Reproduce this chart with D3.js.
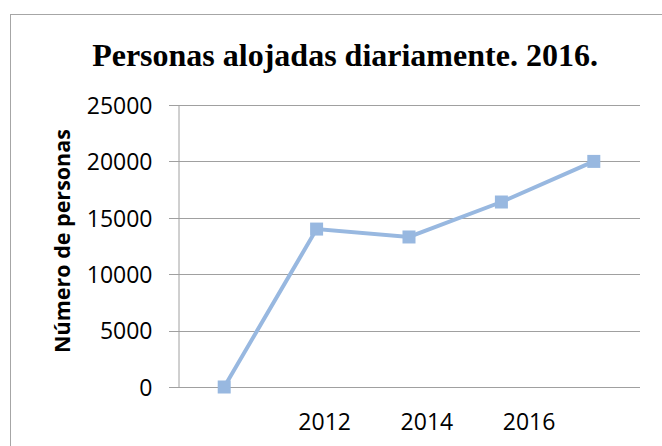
<!DOCTYPE html>
<html>
<head>
<meta charset="utf-8">
<script src="https://cdn.jsdelivr.net/npm/d3@7"></script>
<style>
  body { margin: 0; background: white; }
  .tickText { font-family: "Open Sans", sans-serif; font-size: 23px; fill: black; }
</style>
</head>
<body>
<div id="chart"></div>
<script>
const categories = ["c1", "c2", "c3", "c4", "c5"];
const personas = [0, 14000, 13300, 16400, 20000];
const yTicks = [0, 5000, 10000, 15000, 20000, 25000];
const yearLabels = [2012, 2014, 2016];

const wSvg = 662;
const hSvg = 446;
const plotLeft = 178;
const plotRight = 640;
const plotTop = 105;
const plotBottom = 387;

let svg = d3.select("#chart")
    .append("svg")
    .attr("width", wSvg)
    .attr("height", hSvg);

// outer frame of the chart object
svg.append("rect")
    .attr("x", 10.5)
    .attr("y", 14.5)
    .attr("width", 700)
    .attr("height", 500)
    .attr("fill", "white")
    .attr("stroke", "#a6a6a6");

let yScale = d3.scaleLinear([0, 25000], [plotBottom, plotTop]);
let xScale = d3.scaleBand(categories, [plotLeft, plotRight]);
// the year labels sit on their own scale, they do not line up with the points
let yearScale = d3.scaleLinear([2009.14, 2018.18], [plotLeft, plotRight]);

// gridlines
svg.append("g")
    .selectAll("line")
    .data(yTicks)
    .enter()
    .append("line")
    .attr("x1", plotLeft - 9)
    .attr("x2", plotRight)
    .attr("y1", d => Math.round(yScale(d)) + 0.5)
    .attr("y2", d => Math.round(yScale(d)) + 0.5)
    .attr("stroke", "#a0a0a0");

let yAxis = d3.axisLeft(yScale).tickValues(yTicks).tickFormat(d3.format("d")).tickSize(0).tickPadding(26);
svg.append("g")
    .attr("transform", `translate(${plotLeft + 0.5}, 0)`)
    .call(yAxis)
    .call(g => g.select(".domain").attr("stroke", "#a0a0a0"))
    .selectAll("text")
    .attr("class", "tickText")
    .attr("dy", "0.36em");

let xAxis = d3.axisBottom(yearScale).tickValues(yearLabels).tickFormat(d3.format("d")).tickSize(0).tickPadding(0);
svg.append("g")
    .attr("transform", `translate(0, ${plotBottom})`)
    .call(xAxis)
    .call(g => g.select(".domain").remove())
    .selectAll("text")
    .attr("class", "tickText")
    .attr("dy", 0)
    .attr("y", 43);

let line = d3.line()
    .x((d, i) => xScale(categories[i]) + xScale.bandwidth() / 2)
    .y(d => yScale(d));

svg.append("path")
    .datum(personas)
    .attr("d", line)
    .attr("fill", "none")
    .attr("stroke", "#98b8e0")
    .attr("stroke-width", 4);

svg.append("g")
    .selectAll("rect")
    .data(personas)
    .enter()
    .append("rect")
    .attr("x", (d, i) => xScale(categories[i]) + xScale.bandwidth() / 2 - 6.5)
    .attr("y", d => yScale(d) - 6.5)
    .attr("width", 13)
    .attr("height", 13)
    .attr("fill", "#98b8e0");

svg.append("text")
    .attr("x", 345)
    .attr("y", 66)
    .attr("text-anchor", "middle")
    .style("font-family", "'Liberation Serif', serif")
    .style("font-weight", "bold")
    .style("font-size", "32px")
    .text("Personas alojadas diariamente. 2016.");

svg.append("text")
    .attr("transform", "translate(70, 241) rotate(-90)")
    .attr("text-anchor", "middle")
    .style("font-family", "'Open Sans', sans-serif")
    .style("font-weight", "bold")
    .style("font-size", "21.5px")
    .text("Número de personas");
</script>
</body>
</html>
